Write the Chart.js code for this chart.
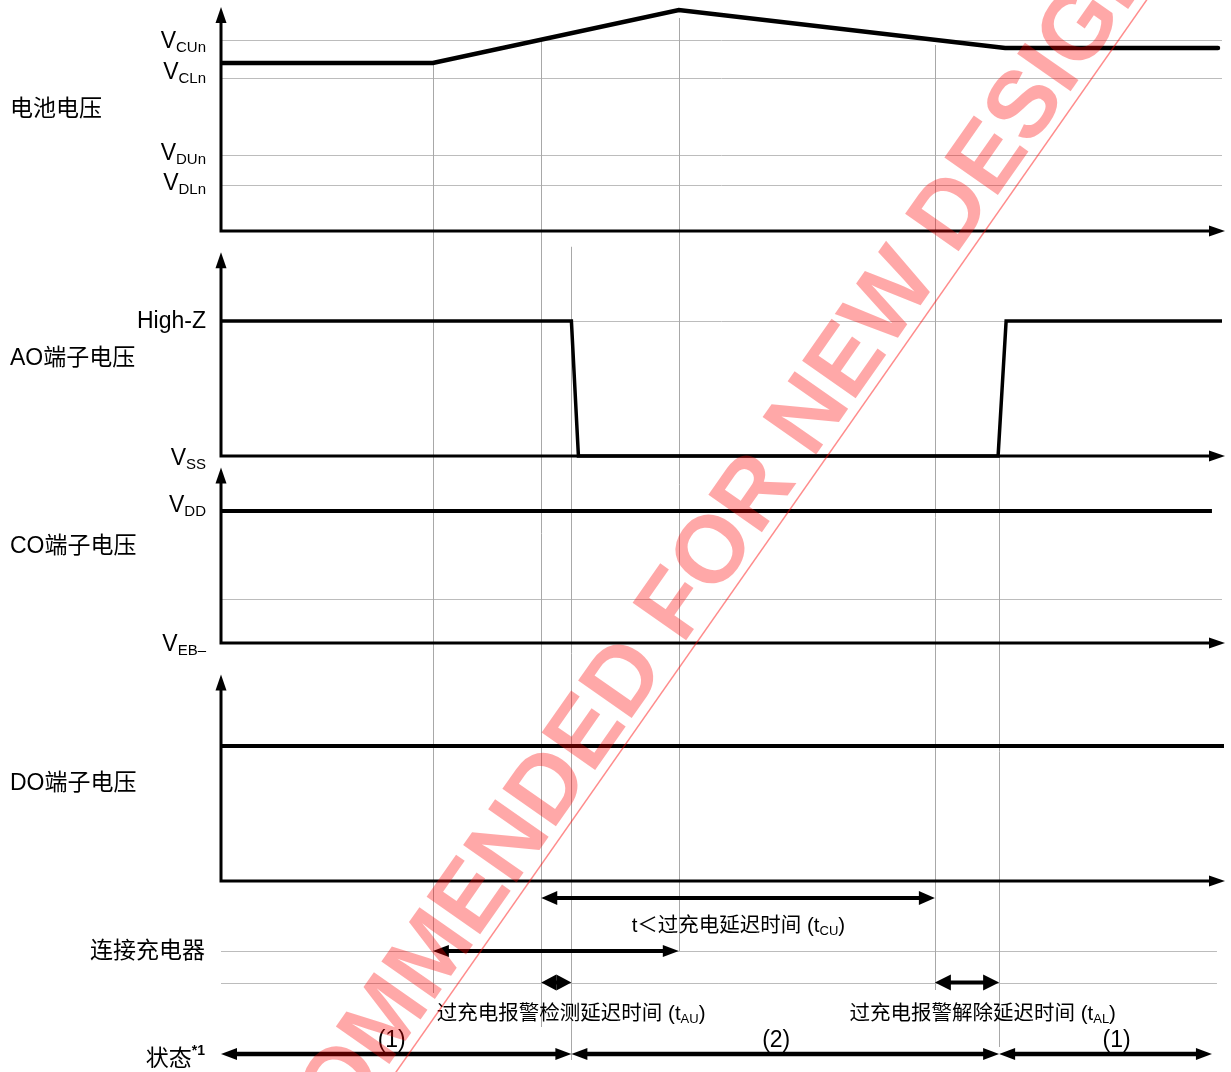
<!DOCTYPE html>
<html lang="zh-CN">
<head>
<meta charset="utf-8">
<title>过充电报警时序图</title>
<script src="https://cdn.jsdelivr.net/npm/chart.js@4.4.1/dist/chart.umd.min.js"></script>
<style>
    html, body { margin: 0; padding: 0; background: #fff; overflow: hidden; }
    #grafico { display: block; }
</style>
</head>
<body>
<canvas id="grafico" width="1231" height="1072"></canvas>
<script>
// Tempo em unidades relativas (0 a 100) no eixo horizontal
const eventosTempo = [21.1, 31.9, 34.9, 45.6, 71.1, 77.5];

// Tensão da bateria (unidades relativas, 0 = eixo)
const bateriaTempo = [0, 21.1, 45.6, 78.1, 99.3];
const bateriaValor = [3.36, 3.36, 4.42, 3.66, 3.66];
const bateriaNiveis = [3.82, 3.06, 1.52, 0.92];
const bateriaRotulos = ['CUn', 'CLn', 'DUn', 'DLn'];

// Terminal AO (1 = High-Z, 0 = VSS)
const aoTempo = [0, 34.9, 35.6, 77.4, 78.2, 99.7];
const aoValor = [1, 1, 0, 0, 1, 1];

// Terminal CO (1 = VDD, 0 = VEB-)
const coTempo = [0, 98.7];
const coValor = [1, 1];
const coNiveis = [0.33];

// Terminal DO
const doTempo = [0, 99.9];
const doValor = [1, 1];

// Setas da parte de baixo (linhas em unidades do eixo yAnn)
const setaTcuTempo = [31.9, 71.1];
const setaCarregadorTempo = [21.1, 45.6];
const setaTauTempo = [31.9, 34.9];
const setaTalTempo = [71.1, 77.5];
const estadoTempo = [0, 34.9, 77.5, 98.7];
const estadoRotulos = ['(1)', '(2)', '(1)'];
const estadoRotuloTempo = [17.0, 55.3, 89.2];
const anotacaoNiveis = [10.3, 7.15];

const ALTURA = 1072;
const FONTE = '"Liberation Sans", Arial, "Noto Sans CJK SC", sans-serif';

function fonte(tamanho, negrito) {
    return (negrito ? 'bold ' : '') + tamanho + 'px ' + FONTE;
}

// Cada painel tem seu próprio eixo y, todos ocupando a altura inteira
function faixa(zeroPx, pxPorUnidade) {
    return {
        type: 'linear',
        position: 'left',
        display: false,
        min: -(ALTURA - zeroPx) / pxPorUnidade,
        max: zeroPx / pxPorUnidade
    };
}

function pontos(tempos, valores) {
    return tempos.map((t, i) => ({ x: t, y: valores[i] }));
}

function linhaFixa(tempos, nivel) {
    return tempos.map(t => ({ x: t, y: nivel }));
}

// Ponta de seta com a ponta em (x, y) apontando para (dx, dy)
function cabeca(ctx, x, y, dx, dy, comp, meia) {
    ctx.beginPath();
    ctx.moveTo(x, y);
    ctx.lineTo(x - dx * comp - dy * meia, y - dy * comp + dx * meia);
    ctx.lineTo(x - dx * comp + dy * meia, y - dy * comp - dx * meia);
    ctx.closePath();
    ctx.fill();
}

function setaDupla(ctx, x1, x2, y, espessura, meia) {
    const comp = Math.min(16, (x2 - x1) / 2);
    ctx.lineWidth = espessura;
    ctx.beginPath();
    ctx.moveTo(x1 + comp - 1, y);
    ctx.lineTo(x2 - comp + 1, y);
    ctx.stroke();
    cabeca(ctx, x1, y, -1, 0, comp, meia);
    cabeca(ctx, x2, y, 1, 0, comp, meia);
}

// Texto com partes de tamanhos diferentes (subscritos)
function textoComposto(ctx, partes, x, y, alinhamento) {
    let largura = 0;
    partes.forEach(p => {
        ctx.font = fonte(p[1], p[3]);
        largura += ctx.measureText(p[0]).width;
    });
    let cx = alinhamento === 'right' ? x - largura : x;
    partes.forEach(p => {
        ctx.font = fonte(p[1], p[3]);
        ctx.fillText(p[0], cx, y + p[2]);
        cx += ctx.measureText(p[0]).width;
    });
}

const paineis = [
    { eixo: 'yBat', topo: 4.48 },
    { eixo: 'yAO', topo: 1.51 },
    { eixo: 'yCO', topo: 1.33 },
    { eixo: 'yDO', topo: 1.53 }
];

const gradeHorizontal = [
    { eixo: 'yBat', niveis: bateriaNiveis, fim: 99.7 },
    { eixo: 'yAO', niveis: [1], fim: 99.7 },
    { eixo: 'yCO', niveis: coNiveis, fim: 99.7 },
    { eixo: 'yAnn', niveis: anotacaoNiveis, fim: 99.2 }
];

// Onde cada linha vertical de evento começa e termina
const eventosInicio = [['yBat', 3.36], ['yBat', 3.82], ['yAO', 1.55], ['yBat', 4.26], ['yBat', 3.72], ['yAO', 0]];
const eventosFim = [['yAnn', 6.1], ['yAnn', 2.7], ['yAnn', -0.6], ['yAnn', 10.3], ['yAnn', 6.4], ['yAnn', 0.7]];

const diagramaPlugin = {
    id: 'diagrama',
    beforeDatasetsDraw(chart) {
        const ctx = chart.ctx;
        const x = chart.scales.x;
        ctx.save();

        // grade horizontal
        ctx.lineWidth = 1;
        ctx.strokeStyle = '#bcbcbc';
        gradeHorizontal.forEach(g => {
            const escala = chart.scales[g.eixo];
            g.niveis.forEach(v => {
                const py = Math.round(escala.getPixelForValue(v)) + 0.5;
                ctx.beginPath();
                ctx.moveTo(x.getPixelForValue(0), py);
                ctx.lineTo(x.getPixelForValue(g.fim), py);
                ctx.stroke();
            });
        });

        // linhas verticais dos eventos
        ctx.strokeStyle = '#a8a8a8';
        eventosTempo.forEach((t, i) => {
            const px = Math.round(x.getPixelForValue(t)) + 0.5;
            const ini = eventosInicio[i];
            const fim = eventosFim[i];
            ctx.beginPath();
            ctx.moveTo(px, chart.scales[ini[0]].getPixelForValue(ini[1]));
            ctx.lineTo(px, chart.scales[fim[0]].getPixelForValue(fim[1]));
            ctx.stroke();
        });

        // eixos com setas
        ctx.strokeStyle = '#000';
        ctx.fillStyle = '#000';
        ctx.lineWidth = 3;
        ctx.lineJoin = 'miter';
        paineis.forEach(p => {
            const escala = chart.scales[p.eixo];
            const x0 = x.getPixelForValue(0);
            const x1 = x.getPixelForValue(100);
            const y0 = escala.getPixelForValue(0);
            const yt = escala.getPixelForValue(p.topo);
            ctx.beginPath();
            ctx.moveTo(x0, yt + 14);
            ctx.lineTo(x0, y0);
            ctx.lineTo(x1 - 14, y0);
            ctx.stroke();
            cabeca(ctx, x0, yt, 0, -1, 16, 5.5);
            cabeca(ctx, x1, y0, 1, 0, 16, 5.5);
        });
        ctx.restore();
    },
    afterDatasetsDraw(chart) {
        const ctx = chart.ctx;
        const x = chart.scales.x;
        const yAnn = chart.scales.yAnn;
        ctx.save();
        ctx.fillStyle = '#000';
        ctx.strokeStyle = '#000';

        // setas de intervalo a partir dos pontos dos datasets
        chart.data.datasets.forEach((ds, i) => {
            if (!ds.seta) return;
            const pts = chart.getDatasetMeta(i).data;
            for (let k = 0; k < pts.length - 1; k++) {
                setaDupla(ctx, pts[k].x, pts[k + 1].x, pts[k].y, ds.seta.espessura, ds.seta.meia);
            }
        });

        // rótulos dos painéis
        ctx.textBaseline = 'middle';
        ctx.textAlign = 'left';
        ctx.font = fonte(23);
        ctx.fillText('电池电压', 10, chart.scales.yBat.getPixelForValue(2.42));
        ctx.fillText('AO端子电压', 10, chart.scales.yAO.getPixelForValue(0.72));
        ctx.fillText('CO端子电压', 10, chart.scales.yCO.getPixelForValue(0.73));
        ctx.fillText('DO端子电压', 10, chart.scales.yDO.getPixelForValue(0.72));
        ctx.textAlign = 'right';
        ctx.fillText('连接充电器', 205, yAnn.getPixelForValue(10.2));

        // rótulos de nível
        ctx.textAlign = 'left';
        ctx.textBaseline = 'alphabetic';
        const direita = 206;
        bateriaNiveis.forEach((v, i) => {
            const dy = [8, 1, 5, 5][i];
            textoComposto(ctx, [['V', 23, 0], [bateriaRotulos[i], 15, 4]], direita,
                chart.scales.yBat.getPixelForValue(v) + dy, 'right');
        });
        textoComposto(ctx, [['High-Z', 23, 0]], direita, chart.scales.yAO.getPixelForValue(1) + 7, 'right');
        textoComposto(ctx, [['V', 23, 0], ['SS', 15, 4]], direita, chart.scales.yAO.getPixelForValue(0) + 9, 'right');
        textoComposto(ctx, [['V', 23, 0], ['DD', 15, 4]], direita, chart.scales.yCO.getPixelForValue(1) + 1, 'right');
        textoComposto(ctx, [['V', 23, 0], ['EB–', 15, 4]], direita, chart.scales.yCO.getPixelForValue(0) + 8, 'right');
        textoComposto(ctx, [['状态', 23, 0], ['*1', 14, -11, true]], 205, yAnn.getPixelForValue(-1.2), 'right');

        // textos das setas
        textoComposto(ctx, [['t＜过充电延迟时间 (t', 20.5, 0], ['CU', 13, 3], [')', 20.5, 0]],
            x.getPixelForValue(40.9), yAnn.getPixelForValue(12.2), 'left');
        textoComposto(ctx, [['过充电报警检测延迟时间 (t', 20.5, 0], ['AU', 13, 3], [')', 20.5, 0]],
            x.getPixelForValue(21.5), yAnn.getPixelForValue(3.4), 'left');
        textoComposto(ctx, [['过充电报警解除延迟时间 (t', 20.5, 0], ['AL', 13, 3], [')', 20.5, 0]],
            x.getPixelForValue(62.6), yAnn.getPixelForValue(3.4), 'left');

        ctx.textAlign = 'center';
        ctx.font = fonte(23);
        estadoRotulos.forEach((r, i) => {
            ctx.fillText(r, x.getPixelForValue(estadoRotuloTempo[i]), yAnn.getPixelForValue(0.7));
        });
        ctx.restore();
    },
    afterDraw(chart) {
        // marca d'água
        const ctx = chart.ctx;
        ctx.save();
        ctx.translate(631, 719);
        ctx.rotate(-55 * Math.PI / 180);
        ctx.fillStyle = 'rgba(255, 0, 0, 0.34)';
        ctx.strokeStyle = 'rgba(255, 0, 0, 0.45)';
        ctx.font = fonte(95, true);
        ctx.textAlign = 'center';
        ctx.textBaseline = 'alphabetic';
        ctx.fillText('NOT RECOMMENDED FOR NEW DESIGN', 0, 0);
        ctx.lineWidth = 1.5;
        ctx.beginPath();
        ctx.moveTo(-1500, 10);
        ctx.lineTo(1500, 10);
        ctx.stroke();
        ctx.restore();
    }
};

const sinal = { borderColor: '#000', backgroundColor: '#000', pointRadius: 0, fill: false, tension: 0, borderJoinStyle: 'miter' };
const seta = { showLine: false, pointRadius: 0, yAxisID: 'yAnn' };

new Chart(document.getElementById('grafico'), {
    type: 'line',
    data: {
        datasets: [
            { ...sinal, label: '电池电压', data: pontos(bateriaTempo, bateriaValor), yAxisID: 'yBat', borderWidth: 4.5, borderCapStyle: 'round' },
            { ...sinal, label: 'AO端子电压', data: pontos(aoTempo, aoValor), yAxisID: 'yAO', borderWidth: 3.5 },
            { ...sinal, label: 'CO端子电压', data: pontos(coTempo, coValor), yAxisID: 'yCO', borderWidth: 4 },
            { ...sinal, label: 'DO端子电压', data: pontos(doTempo, doValor), yAxisID: 'yDO', borderWidth: 4 },
            { ...seta, label: 'tCU', data: linhaFixa(setaTcuTempo, 15.6), seta: { espessura: 4, meia: 7 } },
            { ...seta, label: '连接充电器', data: linhaFixa(setaCarregadorTempo, 10.3), seta: { espessura: 4, meia: 6 } },
            { ...seta, label: 'tAU', data: linhaFixa(setaTauTempo, 7.15), seta: { espessura: 4, meia: 8 } },
            { ...seta, label: 'tAL', data: linhaFixa(setaTalTempo, 7.15), seta: { espessura: 4, meia: 8 } },
            { ...seta, label: '状态', data: linhaFixa(estadoTempo, 0), seta: { espessura: 4.5, meia: 6 } }
        ]
    },
    options: {
        responsive: false,
        animation: false,
        events: [],
        layout: { padding: { left: 221, right: 6, top: 0, bottom: 0 } },
        scales: {
            x: { type: 'linear', min: 0, max: 100, display: false },
            yBat: faixa(231, 50),
            yAO: faixa(456, 135),
            yCO: faixa(643, 132),
            yDO: faixa(881, 135),
            yAnn: faixa(1054, 10)
        },
        plugins: {
            legend: { display: false },
            tooltip: { enabled: false }
        }
    },
    plugins: [diagramaPlugin]
});
</script>
</body>
</html>
